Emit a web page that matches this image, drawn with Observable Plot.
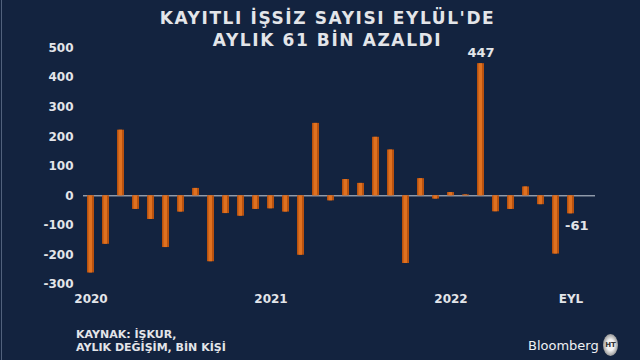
<!DOCTYPE html>
<html><head><meta charset="utf-8">
<script src="https://cdn.jsdelivr.net/npm/d3@7"></script>
<script src="https://cdn.jsdelivr.net/npm/@observablehq/plot@0.6"></script>
<style>
html,body{margin:0;padding:0;background:#13233f;}
#wrap{position:relative;width:640px;height:360px;overflow:hidden;background:#13233f;}
#edge{position:absolute;left:1px;top:0;width:1px;height:360px;background:#51617c;}
#title{position:absolute;left:0;top:7px;width:655px;text-align:center;font-family:"DejaVu Sans",sans-serif;font-weight:bold;font-size:17px;line-height:22px;letter-spacing:1.6px;color:#e3e5e9;}
#chart{position:absolute;left:0;top:0;}
#source{position:absolute;left:76px;top:328px;font-family:"DejaVu Sans",sans-serif;font-weight:bold;font-size:11px;line-height:13px;color:#e3e5e9;}
#brand{position:absolute;left:528px;top:338px;font-family:"DejaVu Sans",sans-serif;font-size:13px;line-height:16px;color:#eef0f3;}
#logo{position:absolute;left:603px;top:334px;width:15px;height:22px;border-radius:50%;background:radial-gradient(#f2f2f2 35%,#8d8d8d 75%,#cfcfcf 100%);font-family:"DejaVu Sans",sans-serif;font-weight:bold;font-size:7px;line-height:22px;text-align:center;color:#333;}
</style></head><body>
<div id="wrap">
<div id="edge"></div>
<div id="chart"></div>
<div id="title">KAYITLI İŞSİZ SAYISI EYLÜL'DE<br>AYLIK 61 BİN AZALDI</div>
<div id="source">KAYNAK: İŞKUR,<br>AYLIK DEĞİŞİM, BİN KİŞİ</div>
<div id="brand">Bloomberg</div>
<div id="logo">HT</div>
</div>
<script>
const months = [
  "2020-01","2020-02","2020-03","2020-04","2020-05","2020-06","2020-07","2020-08","2020-09","2020-10","2020-11","2020-12",
  "2021-01","2021-02","2021-03","2021-04","2021-05","2021-06","2021-07","2021-08","2021-09","2021-10","2021-11","2021-12",
  "2022-01","2022-02","2022-03","2022-04","2022-05","2022-06","2022-07","2022-08","2022-09"
];
const values = [
  -261,-164,222,-46,-80,-175,-55,25,-223,-60,-69,-46,
  -44,-55,-201,245,-17,55,42,198,155,-229,58,-11,
  11,3,447,-54,-46,30,-30,-197,-61
];
const yTicks = [-300,-200,-100,0,100,200,300,400,500];
const xTickMonths = ["2020-01","2021-01","2022-01","2022-09"];
const xTickLabels = ["2020","2021","2022","EYL"];
const labelMonths = ["2022-03","2022-09"];
const labelValues = [447,-61];
const labelTexts = ["447","-61"];

const data = months.map((m,i)=>({month:m, value:values[i]}));
const topLabel = [{month:labelMonths[0], value:labelValues[0], text:labelTexts[0]}];
const bottomLabel = [{month:labelMonths[1], value:labelValues[1], text:labelTexts[1]}];
const txtColor = "#e3e5e9";

const chart = Plot.plot({
  width:640, height:310,
  marginTop:47.5, marginBottom:26, marginLeft:83, marginRight:45,
  style:{background:"transparent", color:txtColor, fontFamily:"'DejaVu Sans', sans-serif", fontSize:"12px", fontWeight:"bold"},
  x:{type:"band", domain:months, paddingInner:0.55, paddingOuter:0.74, align:0.16, axis:null, label:null},
  y:{domain:[-300,500], axis:null, label:null},
  marks:[
    Plot.axisY(yTicks,{tickSize:0, tickPadding:10, label:null, tickFormat:d=>String(d), fill:txtColor, fontSize:12, fontWeight:"bold"}),
    Plot.axisX(xTickMonths,{tickSize:0, tickPadding:10, label:null, tickFormat:d=>xTickLabels[xTickMonths.indexOf(d)], fill:txtColor, fontSize:12, fontWeight:"bold"}),
    Plot.ruleY([0],{stroke:"#c9d1dd", strokeWidth:1}),
    Plot.barY(data,{x:"month", y:"value", fill:"#b9520f"}),
    Plot.barY(data,{x:"month", y:"value", fill:"#df7120", insetLeft:1.5, insetRight:2}),
    Plot.text(topLabel,{x:"month", y:"value", text:"text", lineAnchor:"bottom", dy:-7, fill:txtColor, fontSize:13, fontWeight:"bold"}),
    Plot.text(bottomLabel,{x:"month", y:"value", text:"text", textAnchor:"start", lineAnchor:"top", dx:-6, dy:7, fill:txtColor, fontSize:13, fontWeight:"bold"})
  ]
});
document.getElementById("chart").appendChild(chart);
</script>
</body></html>
